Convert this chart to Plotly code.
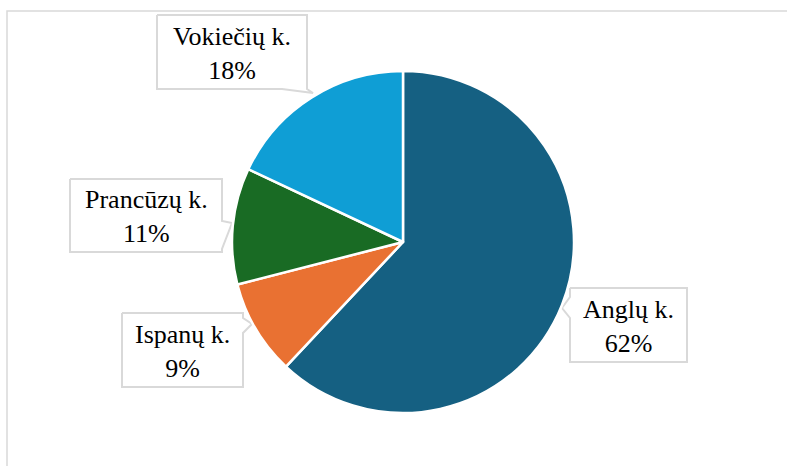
import plotly.graph_objects as go

# ---- data ----
categories = ["Anglų k.", "Ispanų k.", "Prancūzų k.", "Vokiečių k."]
values = [62, 9, 11, 18]
colors = ["#156082", "#E97132", "#196B24", "#0F9ED5"]

# ---- layout geometry (screen pixels) ----
W, H = 787, 466
cx, cy, r = 403, 242, 171

callouts = {
    "Anglų k.":    dict(box=(570, 288, 687, 362), path=[(570, 288), (687, 288), (687, 362), (570, 362), (570, 318), (562, 308), (570, 297)]),
    "Ispanų k.":   dict(box=(122, 313, 243, 387), path=[(122, 313), (243, 313), (243, 318), (252, 324), (243, 333), (243, 387), (122, 387)]),
    "Prancūzų k.": dict(box=(70, 179, 222, 252), path=[(70, 179), (222, 179), (222, 221), (232, 223), (222, 249), (222, 252), (70, 252)]),
    "Vokiečių k.": dict(box=(157, 15, 307, 89), path=[(157, 15), (307, 15), (307, 89), (313, 93), (282, 89), (157, 89)]),
}

fig = go.Figure()

# chart border (top and left edges visible in the frame)
fig.add_trace(go.Scatter(x=[W + 20, 7, 7], y=[11, 11, H + 20], mode="lines",
                         line=dict(color="#d9d9d9", width=1.5), hoverinfo="skip", showlegend=False))

fig.add_trace(go.Pie(
    labels=categories, values=values, sort=False, direction="clockwise", rotation=0,
    marker=dict(colors=colors, line=dict(color="white", width=2.5)),
    textinfo="none", hoverinfo="label+percent", showlegend=False,
    domain=dict(x=[(cx - r) / W, (cx + r) / W], y=[(H - cy - r) / H, (H - cy + r) / H]),
))

SERIF = "Times New Roman"
annotations = []
for cat, val in zip(categories, values):
    c = callouts[cat]
    pts = c["path"] + [c["path"][0]]
    fig.add_trace(go.Scatter(
        x=[p[0] for p in pts], y=[p[1] for p in pts], mode="lines", fill="toself",
        fillcolor="white", line=dict(color="#d9d9d9", width=2),
        hoverinfo="skip", showlegend=False,
    ))
    l, t, rr, b = c["box"]
    annotations.append(dict(
        x=(l + rr) / 2, y=(t + b) / 2 + 1, xref="x", yref="y", showarrow=False,
        text=f"{cat}<br>{val}%",
        font=dict(family=SERIF, size=26, color="black"),
    ))

fig.update_layout(
    width=W, height=H, margin=dict(l=0, r=0, t=0, b=0),
    plot_bgcolor="white",
    xaxis=dict(range=[0, W], visible=False),
    yaxis=dict(range=[H, 0], visible=False),
    annotations=annotations,
)
fig.write_html("out.html", config={"displayModeBar": False},
               post_script="document.body.style.margin='0';")
